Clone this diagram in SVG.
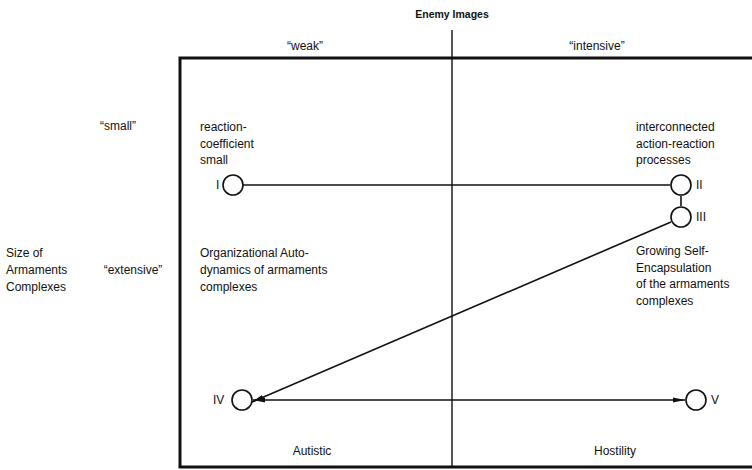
<svg xmlns="http://www.w3.org/2000/svg" width="752" height="470" viewBox="0 0 752 470">
<style>
text{font-family:"Liberation Sans",Arial,sans-serif;font-size:12px;fill:#111}
.b{font-weight:bold;font-size:10.5px}
.c{fill:#fff;stroke:#111;stroke-width:1.6}
.l{stroke:#111;stroke-width:1.6;fill:none}
.m{text-anchor:middle}
</style>
<defs>
<marker id="ah" viewBox="0 0 12 6" refX="12" refY="3" markerWidth="12" markerHeight="6" markerUnits="userSpaceOnUse" orient="auto-start-reverse">
<path d="M0,0.5 L12,3 L0,5.5 Z" fill="#111"/>
</marker>
</defs>
<rect x="0" y="0" width="752" height="470" fill="#fff"/>
<g id="frame">
<rect x="180" y="58" width="590" height="409" fill="none" stroke="#111" stroke-width="3"/>
<line x1="452" y1="30" x2="452" y2="467" stroke="#111" stroke-width="1.4"/>
</g>
<g id="axis-labels">
<text class="b m" x="452" y="18">Enemy Images</text>
<text class="m" x="305" y="50">“weak”</text>
<text class="m" x="597" y="50">“intensive”</text>
<text class="m" x="118" y="130">“small”</text>
<text class="m" x="133" y="274">“extensive”</text>
<text x="6" y="257">Size of</text>
<text x="6" y="274">Armaments</text>
<text x="6" y="291">Complexes</text>
</g>
<g id="region-texts">
<text x="200" y="131">reaction-</text>
<text x="200" y="148">coefficient</text>
<text x="200" y="164">small</text>
<text x="636" y="131">interconnected</text>
<text x="636" y="148">action-reaction</text>
<text x="636" y="164">processes</text>
<text x="200" y="257">Organizational Auto-</text>
<text x="200" y="274">dynamics of armaments</text>
<text x="200" y="291">complexes</text>
<text x="636" y="255">Growing Self-</text>
<text x="636" y="272">Encapsulation</text>
<text x="636" y="288">of the armaments</text>
<text x="636" y="305">complexes</text>
<text class="m" x="312" y="455">Autistic</text>
<text class="m" x="615" y="455">Hostility</text>
</g>
<g id="connectors">
<line class="l" x1="243" y1="185" x2="670" y2="185"/>
<line class="l" x1="681" y1="196" x2="681" y2="206"/>
<line class="l" x1="671" y1="222" x2="252" y2="402" marker-end="url(#ah)"/>
<line class="l" x1="253" y1="400" x2="685" y2="400" marker-start="url(#ah)" marker-end="url(#ah)"/>
</g>
<g id="node-I"><circle class="c" cx="233" cy="185" r="10"/><text x="216" y="189">I</text></g>
<g id="node-II"><circle class="c" cx="681" cy="185" r="10"/><text x="696" y="189">II</text></g>
<g id="node-III"><circle class="c" cx="681" cy="217" r="10"/><text x="696" y="221">III</text></g>
<g id="node-IV"><circle class="c" cx="242" cy="400" r="10"/><text x="213" y="404">IV</text></g>
<g id="node-V"><circle class="c" cx="696" cy="400" r="10"/><text x="711" y="404">V</text></g>
</svg>
